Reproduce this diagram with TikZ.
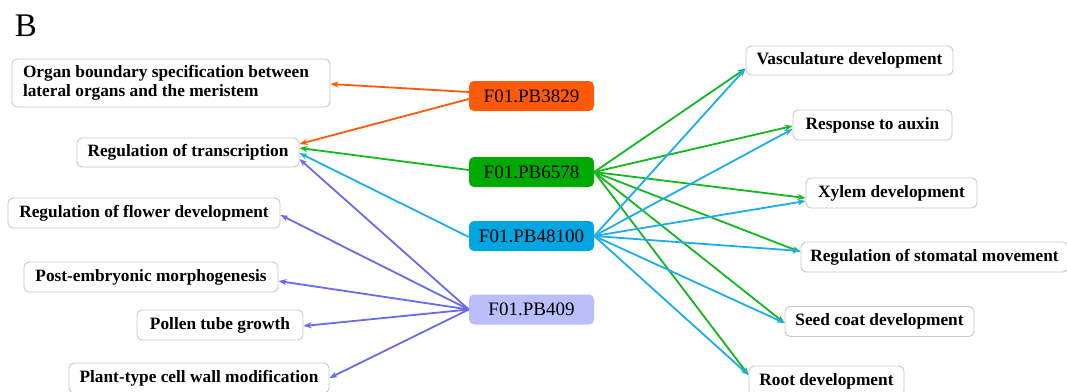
\documentclass[tikz,border=0pt]{standalone}
\usepackage{fontspec}
\setmainfont{Liberation Serif}
\usetikzlibrary{arrows.meta}
\definecolor{corg}{HTML}{FF5A0A}
\definecolor{cgrn}{HTML}{00AA00}
\definecolor{cgrnl}{HTML}{12B81E}
\definecolor{cblu}{HTML}{00A6E2}
\definecolor{cblul}{HTML}{1CAEEA}
\definecolor{clav}{HTML}{BABEFA}
\definecolor{clavl}{HTML}{6A6AEE}
\definecolor{cbord}{HTML}{C8C8C8}
\tikzset{
  term/.style={draw=cbord, line width=0.9pt, rounded corners=5pt, fill=white,
    font=\fontsize{17.3}{19.5}\selectfont\bfseries, inner sep=0pt,
    minimum height=30pt, anchor=center, text=black},
  hub/.style={rounded corners=5pt, minimum width=125pt, minimum height=30pt,
    inner sep=0pt, font=\fontsize{19}{21}\selectfont, text=black},
  link/.style={line width=1.8pt, -{Stealth[length=8pt,width=6pt]}},
}
\begin{document}
\begin{tikzpicture}[x=1pt,y=-1pt]
\useasboundingbox[fill=white] (0,0) rectangle (1067,391);
\node[font=\fontsize{33}{36}\selectfont, anchor=center] (lb) at (26,26) {B};
% left terms
\node[term, minimum width=318pt, minimum height=48pt, align=left] (org) at (171,83)
  {\makebox[296pt][l]{Organ boundary specification between}\\\makebox[296pt][l]{lateral organs and the meristem}};
\node[term, minimum width=222pt, minimum height=29pt] (trans) at (188,152.5) {Regulation of transcription};
\node[term, minimum width=272pt] (flow) at (144,213) {Regulation of flower development};
\node[term, minimum width=254pt] (post) at (151,277) {Post-embryonic morphogenesis};
\node[term, minimum width=166pt] (poll) at (220,325) {Pollen tube growth};
\node[term, minimum width=260pt] (wall) at (199,378) {Plant-type cell wall modification};
% hubs
\node[hub, fill=corg] (h1) at (531.5,96) {F01.PB3829};
\node[hub, fill=cgrn] (h2) at (531.5,172) {F01.PB6578};
\node[hub, fill=cblu] (h3) at (531.5,236) {F01.PB48100};
\node[hub, fill=clav] (h4) at (531.5,309.5) {F01.PB409};
% right terms
\node[term, minimum width=207pt, minimum height=29pt] (vasc) at (849.5,60.5) {Vasculature development};
\node[term, minimum width=159pt] (aux) at (872.5,125) {Response to auxin};
\node[term, minimum width=171pt] (xyl) at (891.5,193) {Xylem development};
\node[term, minimum width=267pt] (stom) at (934.5,257) {Regulation of stomatal movement};
\node[term, minimum width=189pt] (seed) at (879.5,321.5) {Seed coat development};
\node[term, minimum width=155pt] (root) at (826.5,381) {Root development};
% edges
\draw[link, corg] ([yshift=4pt]h1.west) -- ([yshift=-1pt]org.east);
\draw[link, corg] ([yshift=-3pt]h1.west) -- ([yshift=8.5pt]trans.east);
\draw[link, cgrnl] ([yshift=2pt]h2.west) -- ([yshift=4.5pt]trans.east);
\draw[link, cblul] ([yshift=-1pt]h3.west) -- ([yshift=-0.5pt]trans.east);
\draw[link, clavl] (h4.west) -- ([yshift=-6.5pt]trans.east);
\draw[link, clavl] (h4.west) -- ([yshift=-2pt]flow.east);
\draw[link, clavl] (h4.west) -- ([yshift=-4pt]post.east);
\draw[link, clavl] (h4.west) -- ([yshift=-1pt]poll.east);
\draw[link, clavl] (h4.west) -- (wall.east);
% green right
\draw[link, cgrnl] (h2.east) -- ([yshift=-8pt]vasc.west);
\draw[link, cgrnl] (h2.east) -- ([yshift=-1pt]aux.west);
\draw[link, cgrnl] (h2.east) -- ([yshift=-5pt]xyl.west);
\draw[link, cgrnl] (h2.east) -- ([yshift=5pt]stom.west);
\draw[link, cgrnl] (h2.east) -- ([yshift=-1.5pt]seed.west);
\draw[link, cgrnl] (h2.east) -- ([yshift=6pt]root.west);
% blue right
\draw[link, cblul] (h3.east) -- ([yshift=-8pt]vasc.west);
\draw[link, cblul] (h3.east) -- ([yshift=-4pt]aux.west);
\draw[link, cblul] (h3.east) -- ([yshift=-8pt]xyl.west);
\draw[link, cblul] (h3.east) -- ([yshift=6pt]stom.west);
\draw[link, cblul] (h3.east) -- ([yshift=-1.5pt]seed.west);
\draw[link, cblul] (h3.east) -- ([yshift=6pt]root.west);
\end{tikzpicture}
\end{document}
